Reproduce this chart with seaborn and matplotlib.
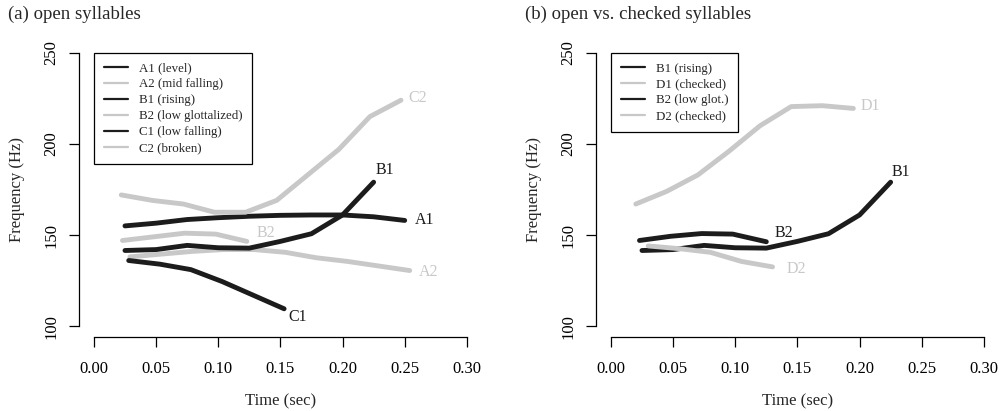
import pandas as pd
import numpy as np
import matplotlib
matplotlib.use('Agg')
import matplotlib.pyplot as plt
import seaborn as sns
from matplotlib.lines import Line2D

# data (time in sec, frequency in Hz)
a1_t = [0.025, 0.05, 0.075, 0.10, 0.125, 0.15, 0.175, 0.20, 0.225, 0.25]
a1_f = [155, 156.5, 158.5, 159.5, 160.3, 160.8, 161, 161, 160, 158]
a2_t = [0.029, 0.054, 0.079, 0.104, 0.129, 0.154, 0.179, 0.204, 0.229, 0.254]
a2_f = [138, 139.5, 141, 142, 142, 140.5, 137.5, 135.5, 133, 130.5]
b1_t = [0.025, 0.05, 0.075, 0.10, 0.125, 0.15, 0.175, 0.20, 0.225]
b1_f = [141.5, 142, 144.3, 143, 142.8, 146.5, 150.7, 161, 179]
b2_t = [0.023, 0.048, 0.073, 0.098, 0.123]
b2_f = [147, 149, 151, 150.5, 146.5]
c1_t = [0.028, 0.053, 0.078, 0.103, 0.128, 0.153]
c1_f = [136, 134, 131, 124.5, 117, 109.5]
c2_t = [0.022, 0.047, 0.072, 0.097, 0.122, 0.147, 0.172, 0.197, 0.222, 0.247]
c2_f = [172, 169, 167, 162.5, 162.5, 169, 183, 197, 215, 224]

rb2_t = [0.023, 0.048, 0.073, 0.098, 0.125]
rb2_f = [147, 149.3, 150.8, 150.5, 146.3]
d1_t = [0.02, 0.045, 0.07, 0.095, 0.12, 0.145, 0.17, 0.195]
d1_f = [167, 174, 183, 196, 210, 220.5, 221, 219.5]
d2_t = [0.03, 0.055, 0.08, 0.105, 0.13]
d2_f = [144, 142.5, 140.5, 135.5, 132.5]

left_names = ['A1 (level)', 'A2 (mid falling)', 'B1 (rising)',
              'B2 (low glottalized)', 'C1 (low falling)', 'C2 (broken)']
right_names = ['B1 (rising)', 'D1 (checked)', 'B2 (low glot.)', 'D2 (checked)']

DARK = '#1c1c1c'
LIGHT = '#c8c8c8'

def make_df(series):
    rows = []
    for name, t, f in series:
        for ti, fi in zip(t, f):
            rows.append({'tone': name, 'time': ti, 'freq': fi})
    return pd.DataFrame(rows)

left_df = make_df([('A1', a1_t, a1_f), ('A2', a2_t, a2_f), ('B1', b1_t, b1_f),
                   ('B2', b2_t, b2_f), ('C1', c1_t, c1_f), ('C2', c2_t, c2_f)])
right_df = make_df([('B1', b1_t, b1_f), ('D1', d1_t, d1_f),
                    ('B2', rb2_t, rb2_f), ('D2', d2_t, d2_f)])

left_pal = {'A1': DARK, 'A2': LIGHT, 'B1': DARK, 'B2': LIGHT, 'C1': DARK, 'C2': LIGHT}
right_pal = {'B1': DARK, 'D1': LIGHT, 'B2': DARK, 'D2': LIGHT}

sns.set_style('ticks')
plt.rcParams['font.family'] = ['Liberation Serif', 'DejaVu Serif']
plt.rcParams['lines.solid_capstyle'] = 'round'
plt.rcParams['lines.solid_joinstyle'] = 'round'

fig = plt.figure(figsize=(10.01, 4.11), dpi=100)
ax1 = fig.add_axes([0.0789, 0.180, 0.4024, 0.718])
ax2 = fig.add_axes([0.5954, 0.180, 0.4024, 0.718])

# label offsets (points) for the end-of-line tags
left_tags = [('C2', LIGHT, 5, 1.5, 'left'), ('B1', DARK, 8, 9, 'center'),
             ('A1', DARK, 7, 0, 'left'), ('A2', LIGHT, 6.5, -1, 'left'),
             ('C1', DARK, 9.5, -6, 'center'), ('B2', LIGHT, 7, 6, 'left')]
right_tags = [('D1', LIGHT, 5, 1.5, 'left'), ('B2', DARK, 6, 6.5, 'left'),
              ('B1', DARK, 7.5, 7.5, 'center'), ('D2', LIGHT, 10, -1.5, 'left')]

for ax, df, pal, names, tags in [(ax1, left_df, left_pal, left_names, left_tags),
                                 (ax2, right_df, right_pal, right_names, right_tags)]:
    sns.lineplot(data=df, x='time', y='freq', hue='tone', palette=pal,
                 units='tone', estimator=None, sort=False, legend=False,
                 linewidth=3.5, ax=ax)
    for tone, col, dx, dy, ha in tags:
        sub = df[df['tone'] == tone]
        ax.annotate(tone, (sub['time'].iloc[-1], sub['freq'].iloc[-1]),
                    xytext=(dx, dy), textcoords='offset points',
                    ha=ha, va='center', fontsize=11.5, color=col)
    handles = [Line2D([0], [0], color=pal[n.split()[0]], lw=1.6) for n in names]
    leg = ax.legend(handles, names, loc='upper left', bbox_to_anchor=(0, 250),
                    bbox_transform=ax.transData, borderaxespad=0, fontsize=9.3,
                    fancybox=False, framealpha=1, edgecolor='black',
                    handlelength=1.9, handletextpad=0.85, labelspacing=0.3,
                    borderpad=0.75)
    leg.get_frame().set_linewidth(0.9)

    ax.set_xlim(-0.012, 0.312)
    ax.set_ylim(94, 256)
    ax.set_xticks([0.0, 0.05, 0.10, 0.15, 0.20, 0.25, 0.30])
    ax.set_xticklabels(['0.00', '0.05', '0.10', '0.15', '0.20', '0.25', '0.30'])
    ax.set_yticks([100, 150, 200, 250])
    ax.spines['top'].set_visible(False)
    ax.spines['right'].set_visible(False)
    ax.spines['bottom'].set_bounds(0, 0.30)
    ax.spines['left'].set_bounds(100, 250)
    for s in ['bottom', 'left']:
        ax.spines[s].set_linewidth(0.9)
        ax.spines[s].set_color('black')
    ax.tick_params(axis='both', direction='out', length=7.2, width=0.9,
                   colors='black', labelsize=12)
    ax.tick_params(axis='x', pad=10)
    ax.tick_params(axis='y', pad=7)
    for lab in ax.get_yticklabels():
        lab.set_rotation(90)
        lab.set_va('center')
    ax.set_xlabel('Time (sec)', fontsize=12, labelpad=12)
    ax.set_ylabel('Frequency (Hz)', fontsize=12, labelpad=13)

fig.text(0.008, 0.966, '(a) open syllables', fontsize=13.5, va='center', ha='left')
fig.text(0.524, 0.966, '(b) open vs. checked syllables', fontsize=13.5, va='center', ha='left')

fig.savefig('out.png', dpi=100)
